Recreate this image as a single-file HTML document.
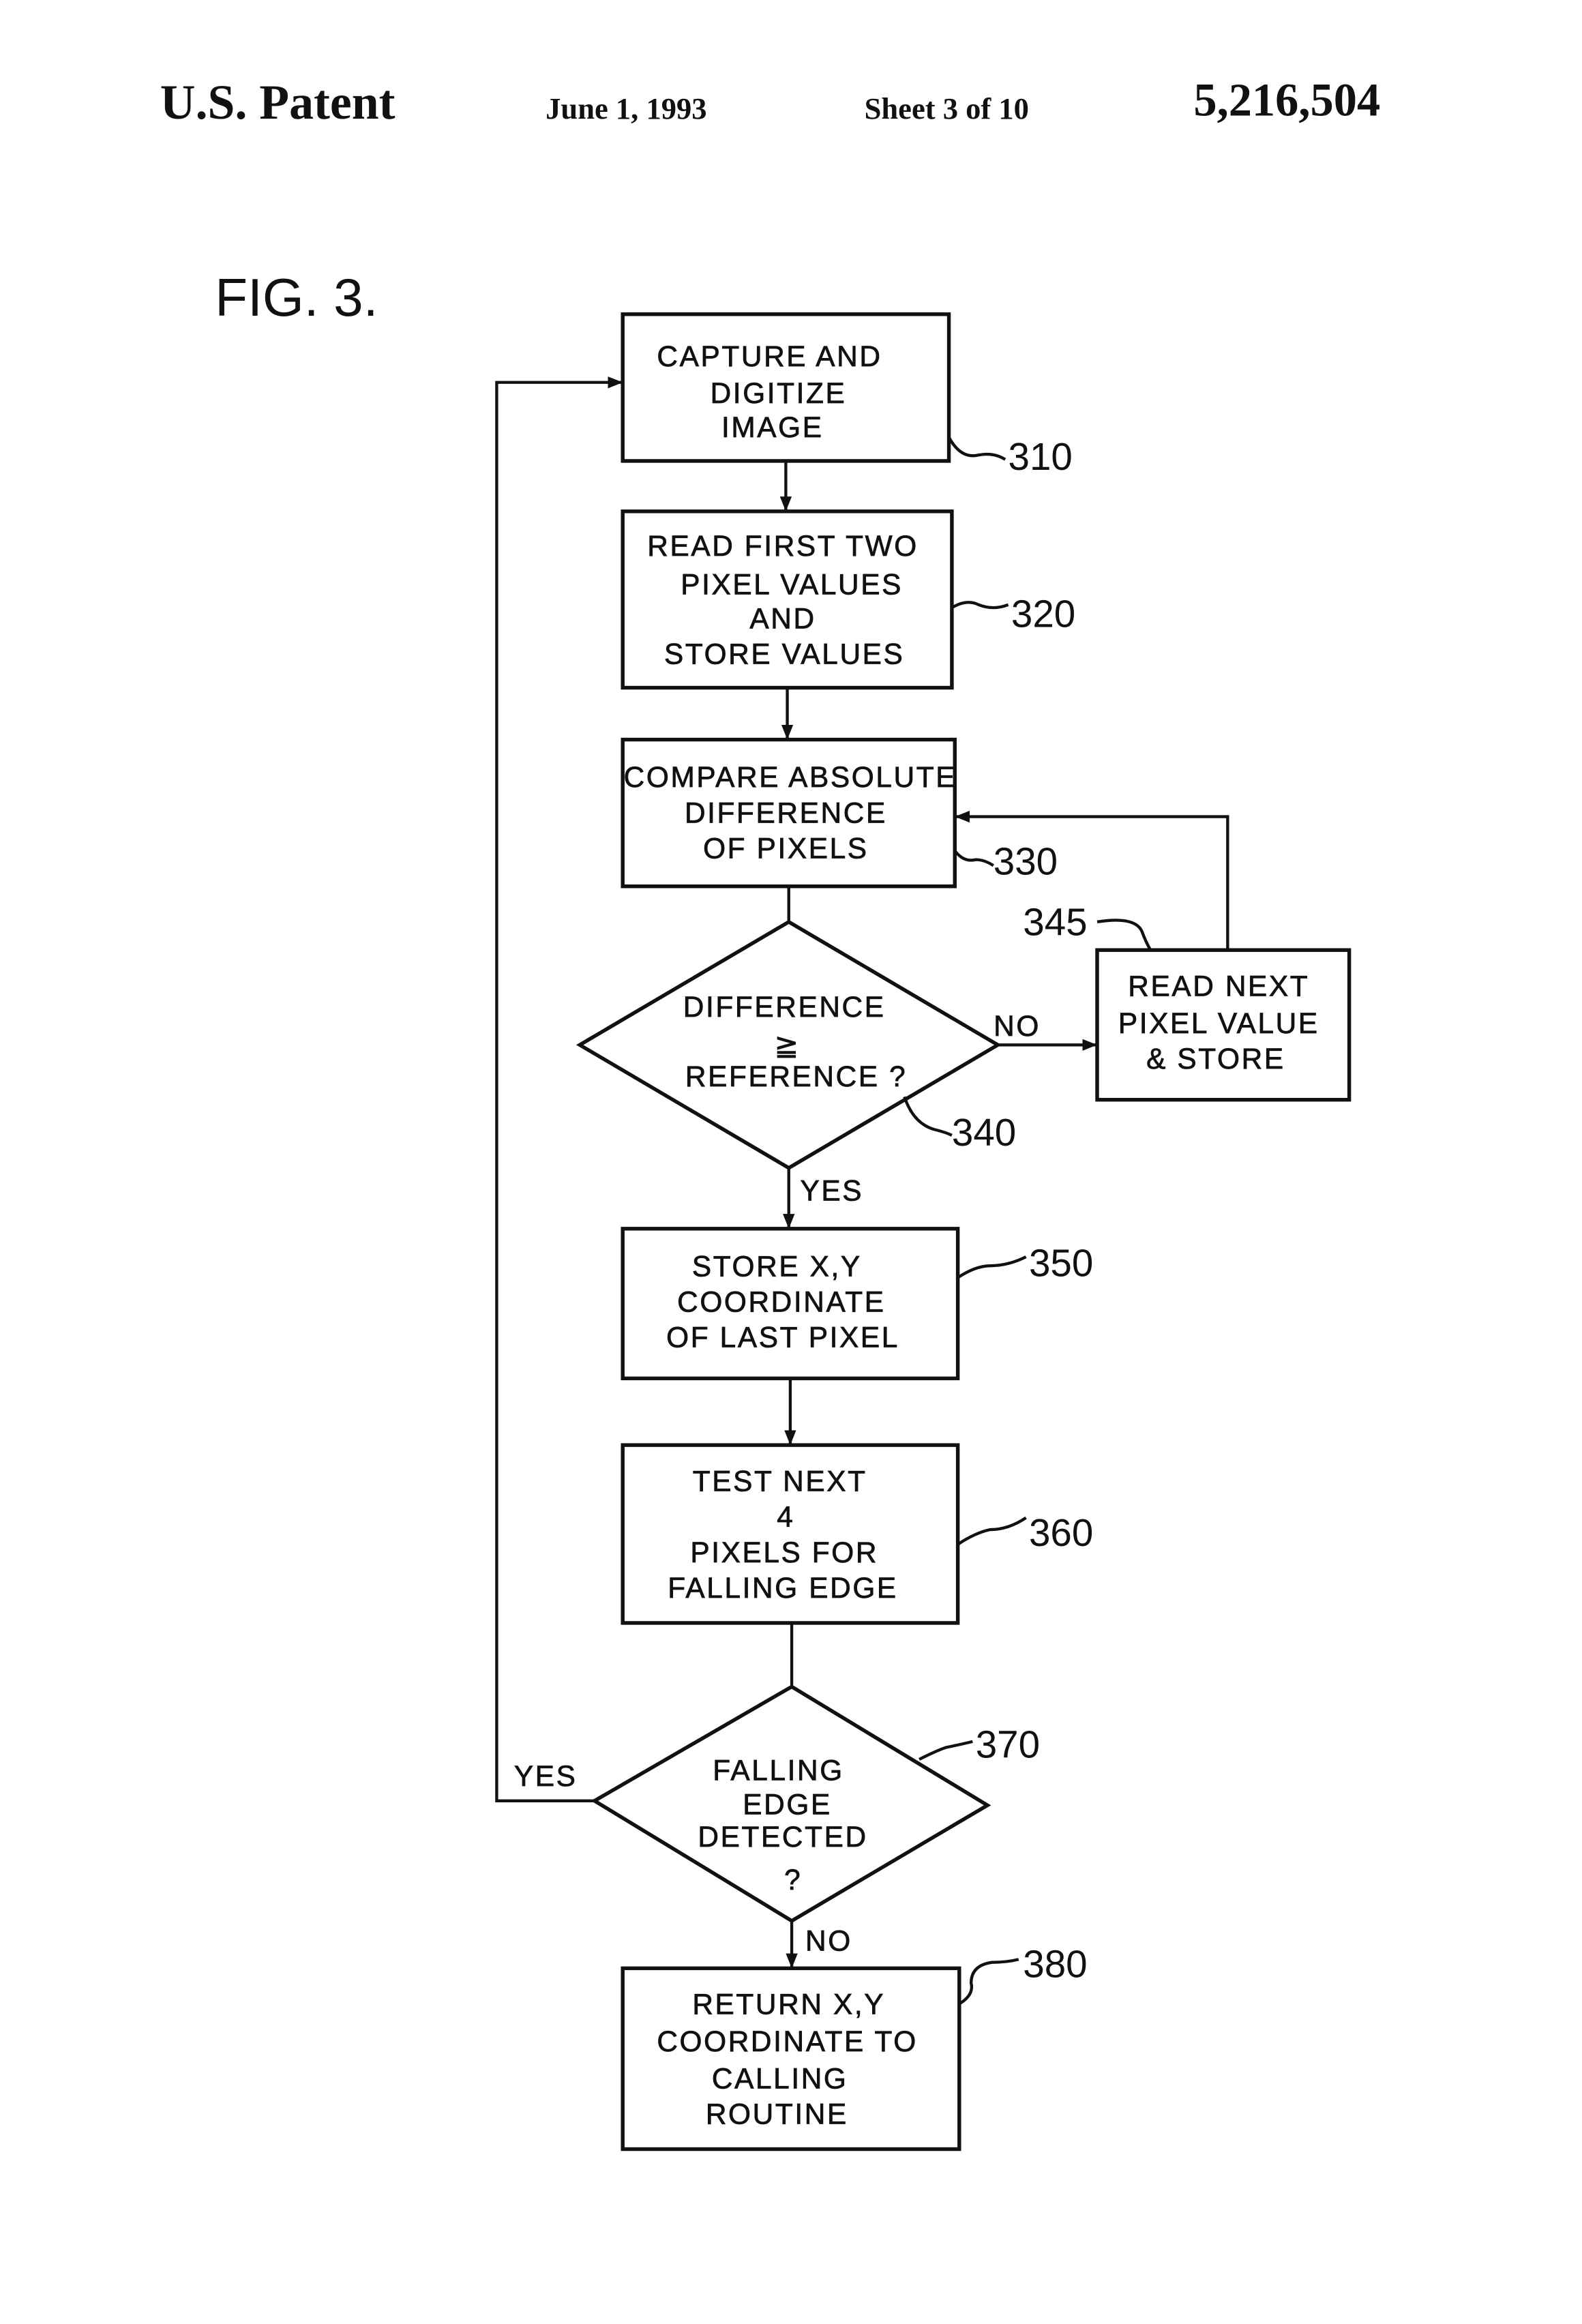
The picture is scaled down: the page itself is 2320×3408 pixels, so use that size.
<!DOCTYPE html>
<html><head><meta charset="utf-8"><style>
html,body{margin:0;padding:0;background:#fff;}
svg{display:block}
.t{font-family:"Liberation Sans",sans-serif;font-size:19.5px;letter-spacing:1.2px;fill:#111;stroke:#111;stroke-width:0.35;text-anchor:middle}
.n{font-family:"Liberation Sans",sans-serif;font-size:26px;fill:#111}
.h{font-family:"Liberation Serif",serif;font-weight:bold;fill:#111}
</style></head><body>
<svg width="2320" height="3408" viewBox="0 0 1067 1568" preserveAspectRatio="none" xmlns="http://www.w3.org/2000/svg">
<defs><marker id="a" markerWidth="10" markerHeight="8" refX="9" refY="4" orient="auto" markerUnits="userSpaceOnUse"><path d="M0,0 L10,4 L0,8 z" fill="#111"/></marker></defs>
<text class="h" x="108" y="80" font-size="33">U.S. Patent</text>
<text class="h" x="368" y="80" font-size="20.5">June 1, 1993</text>
<text class="h" x="583" y="80" font-size="20.5">Sheet 3 of 10</text>
<text class="h" x="805" y="78" font-size="31.5">5,216,504</text>
<text x="145" y="213" font-family="Liberation Sans,sans-serif" font-size="36" fill="#111">FIG. 3.</text>
<g fill="none" stroke="#111" stroke-width="2.5">
<rect x="420" y="212" width="220" height="99"/>
<rect x="420" y="345" width="222" height="119"/>
<rect x="420" y="499" width="224" height="99"/>
<path d="M391,705 L532,622 L673,705 L532,788 Z"/>
<rect x="740" y="641" width="170" height="101"/>
<rect x="420" y="829" width="226" height="101"/>
<rect x="420" y="975" width="226" height="120"/>
<path d="M401,1215 L534,1138 L666,1218 L534,1296 Z"/>
<rect x="420" y="1328" width="227" height="122"/>
</g>
<g fill="none" stroke="#111" stroke-width="2">
<line x1="530" y1="311" x2="530" y2="344" marker-end="url(#a)"/>
<line x1="531" y1="464" x2="531" y2="498" marker-end="url(#a)"/>
<line x1="532" y1="598" x2="532" y2="621"/>
<line x1="532" y1="788" x2="532" y2="828" marker-end="url(#a)"/>
<line x1="533" y1="930" x2="533" y2="974" marker-end="url(#a)"/>
<line x1="534" y1="1095" x2="534" y2="1137"/>
<line x1="534" y1="1296" x2="534" y2="1327" marker-end="url(#a)"/>
<line x1="673" y1="705" x2="739" y2="705" marker-end="url(#a)"/>
<polyline points="828,641 828,551 645,551" marker-end="url(#a)"/>
<polyline points="401,1215 335,1215 335,258 419,258" marker-end="url(#a)"/>
<path d="M640,295 q8,15 20,12 q10,-2 18,3"/>
<path d="M642,410 q10,-6 18,-2 q10,4 20,0"/>
<path d="M644,574 q6,8 14,6 q6,0 12,4"/>
<path d="M740,622 q25,-4 30,6 q3,8 6,13"/>
<path d="M610,740 q6,18 20,22 q8,2 12,4"/>
<path d="M646,862 q12,-8 22,-8 q12,0 24,-6"/>
<path d="M646,1042 q12,-8 22,-10 q12,0 24,-8"/>
<path d="M620,1187 q12,-6 18,-8 q10,-2 18,-4"/>
<path d="M647,1352 q10,-6 8,-14 q0,-12 14,-14 q10,0 18,-2"/>
</g>
<g class="t">
<text x="519" y="247">CAPTURE AND</text><text x="525" y="272">DIGITIZE</text><text x="521" y="295">IMAGE</text>
<text x="528" y="375">READ FIRST TWO</text><text x="534" y="401">PIXEL VALUES</text><text x="528" y="424">AND</text><text x="529" y="448">STORE VALUES</text>
<text x="533" y="531">COMPARE ABSOLUTE</text><text x="530" y="555">DIFFERENCE</text><text x="530" y="579">OF PIXELS</text>
<text x="529" y="686">DIFFERENCE</text><text x="531" y="712">≧</text><text x="537" y="733">REFERENCE ?</text>
<text x="822" y="672">READ NEXT</text><text x="822" y="697">PIXEL VALUE</text><text x="820" y="721">&amp; STORE</text>
<text x="524" y="861">STORE X,Y</text><text x="527" y="885">COORDINATE</text><text x="528" y="909">OF LAST PIXEL</text>
<text x="526" y="1006">TEST NEXT</text><text x="530" y="1030">4</text><text x="529" y="1054">PIXELS FOR</text><text x="528" y="1078">FALLING EDGE</text>
<text x="525" y="1201">FALLING</text><text x="531" y="1224">EDGE</text><text x="528" y="1246">DETECTED</text><text x="535" y="1275">?</text>
<text x="532" y="1359">RETURN X,Y</text><text x="531" y="1384">COORDINATE TO</text><text x="526" y="1409">CALLING</text><text x="524" y="1433">ROUTINE</text>
<text x="561" y="810">YES</text><text x="686" y="699">NO</text><text x="368" y="1205">YES</text><text x="559" y="1316">NO</text>
</g>
<g class="n">
<text x="680" y="317">310</text><text x="682" y="423">320</text><text x="670" y="590">330</text>
<text x="690" y="631">345</text><text x="642" y="773">340</text><text x="694" y="861">350</text>
<text x="694" y="1043">360</text><text x="658" y="1186">370</text><text x="690" y="1334">380</text>
</g>
</svg>
</body></html>
